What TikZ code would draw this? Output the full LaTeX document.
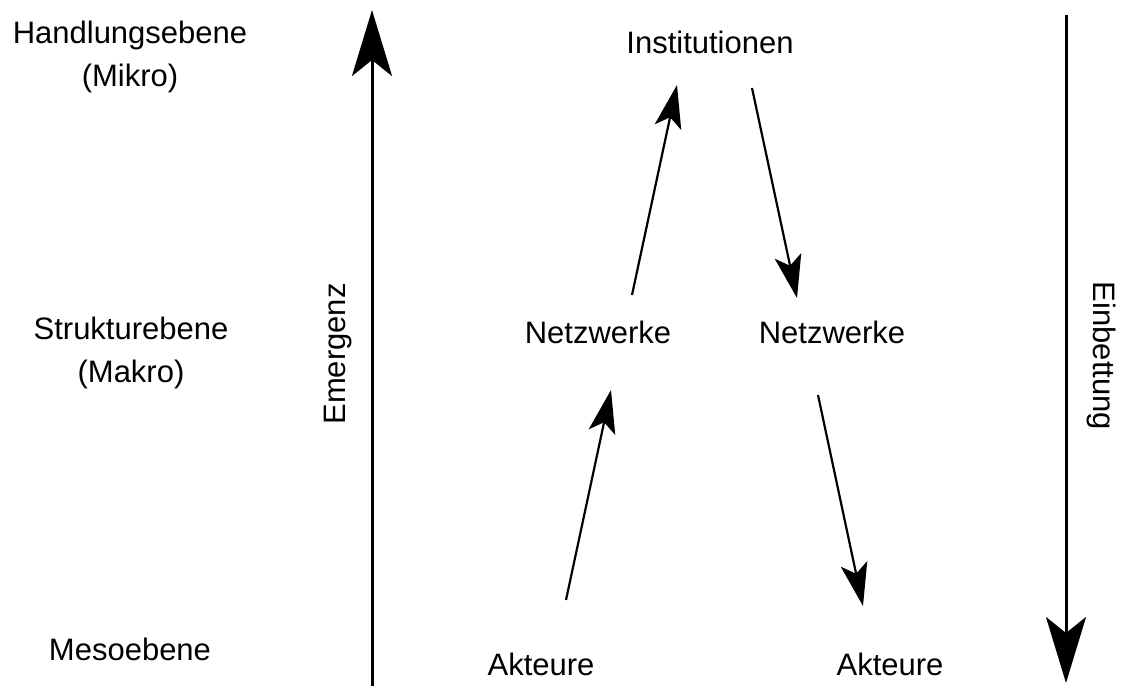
\documentclass[tikz,border=0pt]{standalone}
\usepackage{fontspec}
\setmainfont{Liberation Sans}
\usetikzlibrary{arrows.meta}

\begin{document}
\begin{tikzpicture}[x=0.5pt,y=-0.5pt,
    lbl/.style={font=\fontsize{15.5}{21.5}\selectfont, inner sep=0pt},
    lvl/.style={lbl, align=center},
    axis/.style={line width=1.5pt, -{Stealth[length=33pt,width=20pt,inset=8pt]}},
    flow/.style={line width=1.1pt, -{Stealth[length=21.5pt,width=13.5pt,inset=5pt]}}]
  \useasboundingbox (0,0) rectangle (1121,686);

  % Levels
  \node[lvl] (mikro)    at (130,57)  {Handlungsebene\\(Mikro)};
  \node[lvl] (struktur) at (131,353) {Strukturebene\\(Makro)};
  \node[lbl,anchor=base] (meso) at (130,660) {Mesoebene};

  % Entities
  \node[lbl,anchor=base] (inst)  at (710,53)  {Institutionen};
  \node[lbl,anchor=base] (netzL) at (598,343) {Netzwerke};
  \node[lbl,anchor=base] (netzR) at (832,343) {Netzwerke};
  \node[lbl,anchor=base] (aktL)  at (541,675) {Akteure};
  \node[lbl,anchor=base] (aktR)  at (890,675) {Akteure};

  % Axes
  \coordinate (emTail) at (372,686);
  \coordinate (emTip)  at (372,10);
  \coordinate (ebTail) at (1066,15);
  \coordinate (ebTip)  at (1066,683);
  \draw[axis] (emTail) -- (emTip);
  \draw[axis] (ebTail) -- (ebTip);
  \node[lbl,rotate=90]  (emerg) at (338,354)  {Emergenz};
  \node[lbl,rotate=-90] (einb)  at (1102,356) {Einbettung};

  % Emergence: Akteure -> Netzwerke -> Institutionen
  \coordinate (aktLout)  at (566,600);
  \coordinate (netzLin)  at (611,390);
  \coordinate (netzLout) at (632,295);
  \coordinate (instIn)   at (677,85);
  \draw[flow] (aktLout) -- (netzLin);
  \draw[flow] (netzLout) -- (instIn);

  % Embedding: Institutionen -> Netzwerke -> Akteure
  \coordinate (instOut)  at (752,88);
  \coordinate (netzRin)  at (797,298);
  \coordinate (netzRout) at (818,395);
  \coordinate (aktRin)   at (863,606);
  \draw[flow] (instOut) -- (netzRin);
  \draw[flow] (netzRout) -- (aktRin);

\end{tikzpicture}
\end{document}
